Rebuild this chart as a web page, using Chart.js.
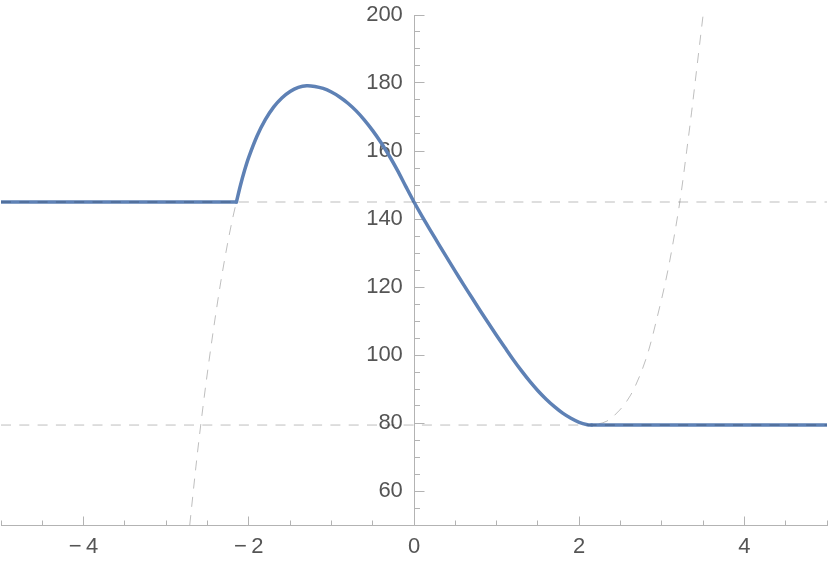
<!DOCTYPE html>
<html>
<head>
<meta charset="utf-8">
<script src="https://cdn.jsdelivr.net/npm/chart.js@4.4.1/dist/chart.umd.min.js"></script>
<style>
  html, body { margin: 0; padding: 0; background: #fff; }
</style>
</head>
<body>
<canvas id="myChart" width="830" height="565"></canvas>
<script>
// levels of the two flat parts
let highLevel = 145;
let lowLevel = 79.4;

// flat parts of the thick curve
let flatLeftX = [-5, -2.15];
let flatRightX = [2.15, 5];

// middle part of the thick curve
let curveX = [-2.15, -2.1, -2.05, -2.0, -1.9, -1.8, -1.7, -1.6, -1.5, -1.4, -1.3, -1.2, -1.1, -1.0, -0.9, -0.8, -0.7,
  -0.6, -0.5, -0.4, -0.3, -0.2, -0.1, 0, 0.1, 0.2, 0.3, 0.4, 0.5, 0.6, 0.7, 0.8, 0.9, 1.0, 1.1, 1.2, 1.3, 1.4, 1.5,
  1.6, 1.7, 1.8, 1.9, 2.0, 2.1, 2.15];
let curveY = [145, 150.0, 154.4, 158.2, 164.4, 169.2, 172.9, 175.6, 177.5, 178.7, 179.2, 179.0, 178.4, 177.35, 175.9,
  174.05, 171.8, 169.1, 166.0, 162.5, 158.6, 154.3, 149.6, 145, 140.7, 136.6, 132.55, 128.55, 124.6, 120.7, 116.9,
  113.1, 109.4, 105.75, 102.2, 98.7, 95.4, 92.3, 89.5, 87.0, 84.8, 82.9, 81.4, 80.2, 79.5, 79.4];

// thin dashed continuation of the curve, left and right of the flat joins
let dashLeftX = [-2.715, -2.64, -2.58, -2.50, -2.42, -2.34, -2.26, -2.20];
let dashLeftY = [50, 67.2, 79.8, 95.0, 108.8, 121.4, 132.4, 139.7];
let dashRightX = [2.33, 2.49, 2.62, 2.74, 2.84, 2.94, 3.04, 3.12, 3.22, 3.30, 3.36, 3.42, 3.50];
let dashRightY = [80.5, 83.8, 88.1, 94.3, 101.3, 110.7, 121.0, 130.8, 145.3, 159.8, 171.3, 183.6, 200];

// axes
let xRange = [-5, 5];
let yRange = [50, 200];
let xTickLabels = [-4, -2, 0, 2, 4];
let yTickLabels = [60, 80, 100, 120, 140, 160, 180, 200];

const blue = "#5e81b5";
const dashColor = "rgba(0,0,0,0.26)";
const axisColor = "#b3b3b3";
const labelColor = "#555555";
const fontFamily = "'Liberation Sans', Arial, sans-serif";

function pts(xs, ys) {
  return xs.map((x, i) => ({ x: x, y: ys[i] }));
}

function fmt(v) {
  return v < 0 ? "\u2212\u2009" + Math.abs(v) : String(v);
}

// Mathematica style axes: y axis line at x = 0 and major + minor ticks pointing into the plot
const tickMarks = {
  id: "tickMarks",
  beforeDatasetsDraw(chart) {
    const c = chart.ctx;
    const sx = chart.scales.x;
    const sy = chart.scales.y;
    const ax = Math.round(sx.getPixelForValue(0) - 0.5) + 0.5;
    const ay = Math.round(sy.getPixelForValue(yRange[0]) - 0.5) + 0.5;
    c.save();
    c.strokeStyle = axisColor;
    c.lineWidth = 1;
    c.beginPath();
    c.moveTo(ax, sy.getPixelForValue(yRange[1]));
    c.lineTo(ax, ay);
    for (let v = xRange[0]; v <= xRange[1] + 1e-9; v += 0.5) {
      const px = Math.round(sx.getPixelForValue(v) - 0.5) + 0.5;
      const len = xTickLabels.includes(v) ? 9 : 5;
      c.moveTo(px, ay);
      c.lineTo(px, ay - len);
    }
    for (let v = yRange[0]; v <= yRange[1]; v += 5) {
      const py = Math.round(sy.getPixelForValue(v) - 0.5) + 0.5;
      const len = yTickLabels.includes(v) ? 10 : 5.5;
      c.moveTo(ax, py);
      c.lineTo(ax + len, py);
    }
    c.stroke();
    c.restore();
  }
};

const ctx = document.getElementById("myChart").getContext("2d");

new Chart(ctx, {
  type: "line",
  data: {
    datasets: [
      { data: pts(xRange, [highLevel, highLevel]), borderColor: dashColor, borderWidth: 1, borderDash: [10, 8.3] },
      { data: pts(xRange, [lowLevel, lowLevel]), borderColor: dashColor, borderWidth: 1, borderDash: [10, 8.3] },
      { data: pts(flatLeftX, [highLevel, highLevel]), borderColor: blue, borderWidth: 3.5, borderCapStyle: "round" },
      { data: pts(curveX, curveY), borderColor: blue, borderWidth: 3.5, borderCapStyle: "round", tension: 0.33 },
      { data: pts(flatRightX, [lowLevel, lowLevel]), borderColor: blue, borderWidth: 3.5, borderCapStyle: "round" },
      {
        data: pts(dashLeftX.concat(curveX, dashRightX), dashLeftY.concat(curveY, dashRightY)),
        borderColor: dashColor, borderWidth: 1, borderDash: [10, 8.3], tension: 0.33
      }
    ]
  },
  options: {
    responsive: false,
    animation: false,
    events: [],
    layout: { padding: { left: 1, right: 3, top: 15, bottom: 40 } },
    elements: { point: { radius: 0 }, line: { fill: false } },
    plugins: { legend: { display: false }, tooltip: { enabled: false } },
    scales: {
      x: {
        type: "linear",
        min: xRange[0],
        max: xRange[1],
        position: { y: yRange[0] },
        grid: { display: false, drawTicks: false },
        border: { display: true, color: axisColor, width: 1 },
        afterBuildTicks: (axis) => { axis.ticks = xTickLabels.map(v => ({ value: v })); },
        afterFit: (axis) => { axis.paddingLeft = 0; axis.paddingRight = 0; },
        ticks: {
          autoSkip: false,
          maxRotation: 0,
          padding: 9,
          color: labelColor,
          font: { family: fontFamily, size: 22 },
          callback: (v) => fmt(v)
        }
      },
      y: {
        type: "linear",
        min: yRange[0],
        max: yRange[1],
        // labels sit 11px left of the y axis line (line itself drawn by the plugin)
        position: { x: -0.135 },
        grid: { display: false, drawTicks: false },
        border: { display: false },
        afterBuildTicks: (axis) => { axis.ticks = yTickLabels.map(v => ({ value: v })); },
        afterFit: (axis) => { axis.paddingTop = 0; axis.paddingBottom = 0; },
        ticks: {
          autoSkip: false,
          padding: 0,
          color: labelColor,
          font: { family: fontFamily, size: 22 },
          callback: (v) => fmt(v)
        }
      }
    }
  },
  plugins: [tickMarks]
});
</script>
</body>
</html>
